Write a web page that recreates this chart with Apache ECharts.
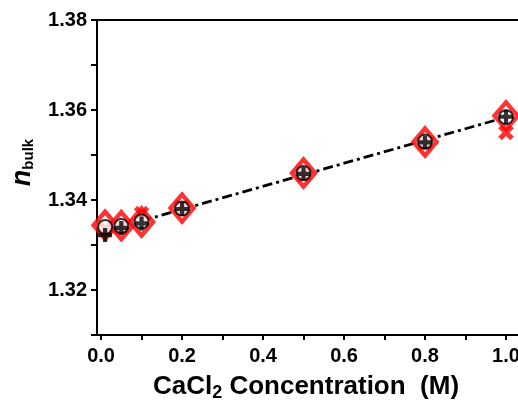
<!DOCTYPE html>
<html><head><meta charset="utf-8">
<script src="https://cdn.jsdelivr.net/npm/echarts@6/dist/echarts.min.js"></script>
<style>html,body{margin:0;padding:0;background:#fff}#c{width:518px;height:401px}</style>
</head><body><div id="c"></div>
<script>
var concentrations = [0.01, 0.05, 0.1, 0.2, 0.5, 0.8, 1.0];
var diamondValues = [1.3344, 1.3343, 1.3351, 1.3382, 1.3460, 1.3529, 1.3587];
var circleValues  = [1.3340, 1.3342, 1.3352, 1.3381, 1.3460, 1.3530, 1.3584];
var plusValues    = [1.3322, 1.3338, 1.3348, 1.3380, 1.3458, 1.3528, 1.3585];
var crossValues   = [1.3336, 1.3340, 1.3370, 1.3384, 1.3457, 1.3526, 1.3550];
var fitX = [0.0, 1.0];
var fitValues = [1.3328, 1.3584];
var xTicks = [0, 0.1, 0.2, 0.3, 0.4, 0.5, 0.6, 0.7, 0.8, 0.9, 1.0];
var xTickLabels = [0, 0.2, 0.4, 0.6, 0.8, 1.0];

function pairs(xs, ys){ return xs.map(function(x,i){ return [x, ys[i]]; }); }
var plusPath = 'path://M3.5,0L6.5,0L6.5,3.5L10,3.5L10,6.5L6.5,6.5L6.5,10L3.5,10L3.5,6.5L0,6.5L0,3.5L3.5,3.5Z';
var labelFont = {fontFamily:'Liberation Sans, Arial', fontWeight:'bold', fontSize:20, color:'#000'};

var chart = echarts.init(document.getElementById('c'), null, {renderer:'canvas'});
chart.setOption({
  animation:false,
  backgroundColor:'#fff',
  grid:{left:97, top:20, bottom:66, width:440, containLabel:false, outerBoundsMode:'none',
        show:true, borderColor:'#000', borderWidth:2, backgroundColor:'transparent'},
  xAxis:{
    type:'value', min:-0.01, max:1.0765,
    axisLine:{show:true, onZero:false, lineStyle:{color:'#000', width:2}},
    axisTick:{show:true, length:5, lineStyle:{color:'#000', width:2}, customValues:xTicks},
    axisLabel:Object.assign({margin:11, customValues:xTickLabels, formatter:function(v){return v.toFixed(1);}}, labelFont),
    splitLine:{show:false},
    name:'{t|CaCl}{s|2}{t| Concentration  (M)}',
    nameLocation:'middle', nameGap:37,
    nameTextStyle:{padding:[0,22,0,0], rich:{
      t:{fontFamily:'Liberation Sans, Arial', fontWeight:'bold', fontSize:26, color:'#000'},
      s:{fontFamily:'Liberation Sans, Arial', fontWeight:'bold', fontSize:18, color:'#000', padding:[12,0,0,0]}
    }}
  },
  yAxis:{
    type:'value', min:1.31, max:1.38, interval:0.01,
    axisLine:{show:true, onZero:false, lineStyle:{color:'#000', width:2}},
    axisTick:{show:true, length:6, lineStyle:{color:'#000', width:2}},
    axisLabel:Object.assign({margin:10, showMaxLabel:true, formatter:function(v){
      var k = Math.round(v*100); return (k%2===0) ? v.toFixed(2) : '';
    }}, labelFont),
    splitLine:{show:false},
    name:'{n|n}{s|bulk}',
    nameLocation:'middle', nameGap:61,
    nameTextStyle:{padding:[0,0,0,30], rich:{
      n:{fontFamily:'Liberation Sans, Arial', fontWeight:'bold', fontStyle:'italic', fontSize:27, color:'#000'},
      s:{fontFamily:'Liberation Sans, Arial', fontWeight:'bold', fontSize:15, color:'#000', padding:[12,0,0,0]}
    }}
  },
  series:[
    {type:'line', data:pairs(fitX, fitValues), symbol:'none', z:1,
     lineStyle:{color:'#000', width:2.8, type:[10,4,3,4]}},
    {type:'scatter', data:pairs(concentrations, diamondValues), symbol:'diamond', symbolSize:[23,27], z:2,
     itemStyle:{color:'#fff', borderColor:'#ff0000', borderWidth:4.5}},
    {type:'scatter', data:pairs(concentrations, crossValues), symbol:plusPath, symbolSize:17, symbolRotate:45, z:3,
     itemStyle:{color:'#ff0000'}},
    {type:'scatter', data:pairs(concentrations, circleValues), symbol:'emptyCircle', symbolSize:14, z:4,
     itemStyle:{color:'#000', borderWidth:3}},
    {type:'scatter', data:pairs(concentrations, plusValues), symbol:plusPath, symbolSize:14, z:5,
     itemStyle:{color:'#000'}}
  ]
});
</script></body></html>
